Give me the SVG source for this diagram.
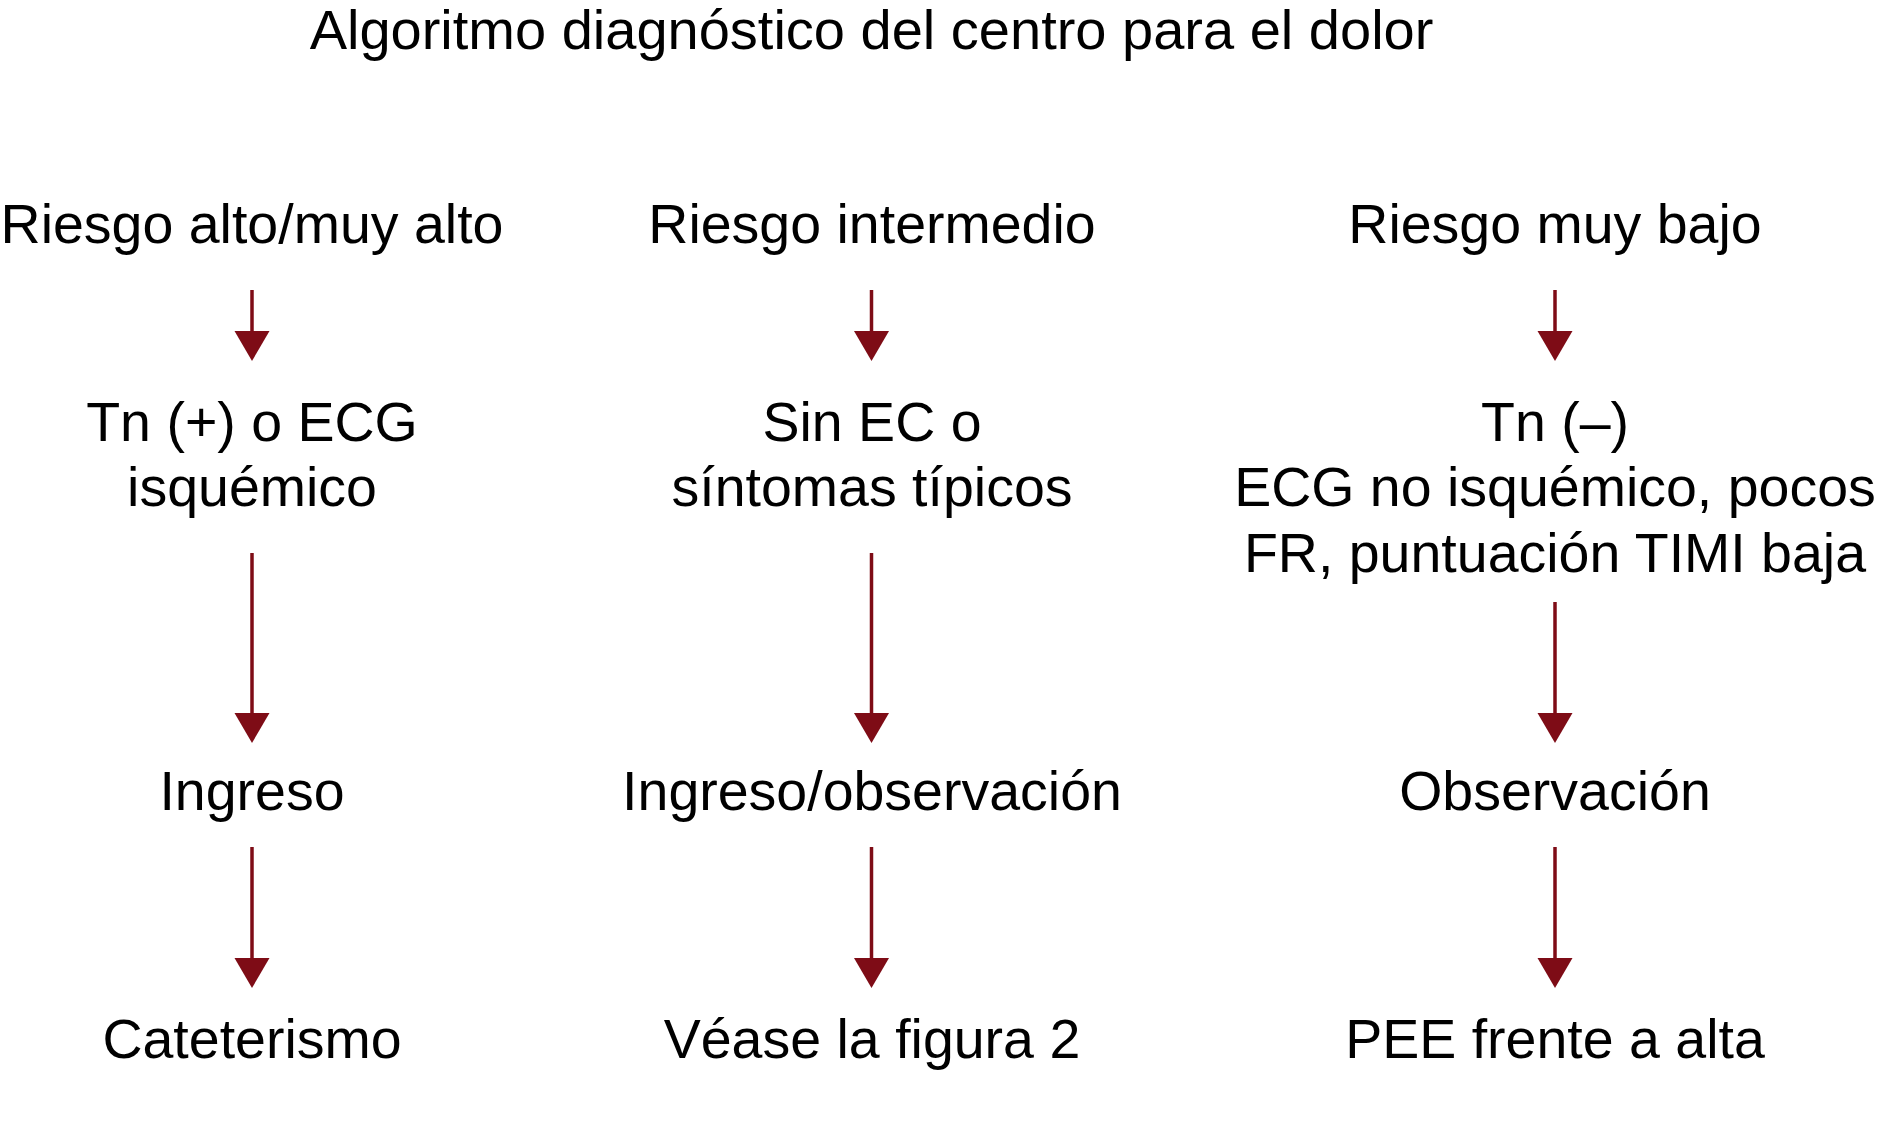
<svg xmlns="http://www.w3.org/2000/svg" width="1882" height="1139" viewBox="0 0 1882 1139">
<style>
text{font-family:"Liberation Sans",Arial,Helvetica,sans-serif;font-size:55.5px;fill:#000;text-anchor:middle}
.c{stroke:#7e0c16;stroke-width:3.5;fill:none}
.h{fill:#7e0c16}
</style>
<defs>
<path id="ah" d="M-17.5,-30 L17.5,-30 L0,0 Z"/>
</defs>
<rect width="1882" height="1139" fill="#fff"/>
<g id="title"><text x="871.5" y="49" style="font-size:56px">Algoritmo diagnóstico del centro para el dolor</text></g>
<g id="n-r1c1"><text x="252" y="243">Riesgo alto/muy alto</text></g>
<g id="n-r1c2"><text x="872" y="243">Riesgo intermedio</text></g>
<g id="n-r1c3"><text x="1555" y="243">Riesgo muy bajo</text></g>
<g id="n-r2c1"><text x="252" y="441">Tn (+) o ECG</text><text x="252" y="506">isquémico</text></g>
<g id="n-r2c2"><text x="872" y="441">Sin EC o</text><text x="872" y="506">síntomas típicos</text></g>
<g id="n-r2c3"><text x="1555" y="441">Tn (–)</text><text x="1555" y="506">ECG no isquémico, pocos</text><text x="1555" y="572">FR, puntuación TIMI baja</text></g>
<g id="n-r3c1"><text x="252" y="810">Ingreso</text></g>
<g id="n-r3c2"><text x="872" y="810">Ingreso/observación</text></g>
<g id="n-r3c3"><text x="1555" y="810">Observación</text></g>
<g id="n-r4c1"><text x="252" y="1058">Cateterismo</text></g>
<g id="n-r4c2"><text x="872" y="1058">Véase la figura 2</text></g>
<g id="n-r4c3"><text x="1555" y="1058">PEE frente a alta</text></g>
<g id="connectors">
<path class="c" d="M252,290V335"/><use href="#ah" class="h" x="252" y="361"/>
<path class="c" d="M871.5,290V335"/><use href="#ah" class="h" x="871.5" y="361"/>
<path class="c" d="M1555,290V335"/><use href="#ah" class="h" x="1555" y="361"/>
<path class="c" d="M252,553V717"/><use href="#ah" class="h" x="252" y="743"/>
<path class="c" d="M871.5,553V717"/><use href="#ah" class="h" x="871.5" y="743"/>
<path class="c" d="M1555,602V717"/><use href="#ah" class="h" x="1555" y="743"/>
<path class="c" d="M252,847V962"/><use href="#ah" class="h" x="252" y="988"/>
<path class="c" d="M871.5,847V962"/><use href="#ah" class="h" x="871.5" y="988"/>
<path class="c" d="M1555,847V962"/><use href="#ah" class="h" x="1555" y="988"/>
</g>
</svg>
